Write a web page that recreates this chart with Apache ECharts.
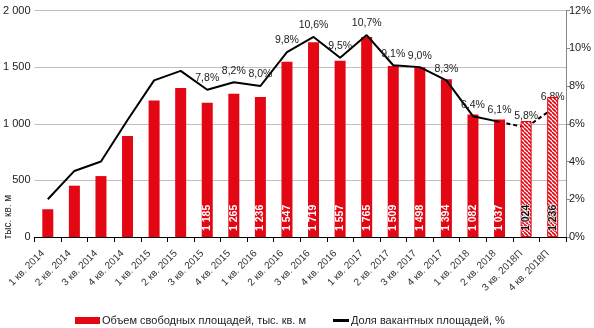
<!DOCTYPE html>
<html><head><meta charset="utf-8">
<script src="https://cdn.jsdelivr.net/npm/echarts@6/dist/echarts.min.js"></script>
<style>html,body{margin:0;padding:0;background:#fff}#c{width:594px;height:328px}</style>
</head><body><div id="c"></div>
<script>
const categories = ['1 кв. 2014','2 кв. 2014','3 кв. 2014','4 кв. 2014','1 кв. 2015','2 кв. 2015','3 кв. 2015','4 кв. 2015','1 кв. 2016','2 кв. 2016','3 кв. 2016','4 кв. 2016','1 кв. 2017','2 кв. 2017','3 кв. 2017','4 кв. 2017','1 кв. 2018','2 кв. 2018','3 кв. 2018П','4 кв. 2018П'];
const volume = [245,453,538,891,1205,1315,1185,1265,1236,1547,1719,1557,1765,1509,1498,1394,1082,1037,1024,1236];
const vacancy = [2.0,3.5,4.0,6.2,8.3,8.8,7.8,8.2,8.0,9.8,10.6,9.5,10.7,9.1,9.0,8.3,6.4,6.1,5.8,6.8];
const forecastFrom = 18;      // first forecast category index
const firstLabelled = 6;      // first category with value labels
const leftTicks = [0,500,1000,1500,2000];
const rightTicks = [0,2,4,6,8,10,12];
const barName = 'Объем свободных площадей, тыс. кв. м';
const lineName = 'Доля вакантных площадей, %';

const RED = '#E30613';
function fmtThousands(v){ return v >= 1000 ? Math.floor(v/1000) + ' ' + String(v % 1000).padStart(3,'0') : String(v); }

// hatch pattern
const pc = document.createElement('canvas');
const s = 4; pc.width = s; pc.height = s;
const pctx = pc.getContext('2d');
pctx.fillStyle = '#fff'; pctx.fillRect(0,0,s,s);
pctx.strokeStyle = RED; pctx.lineWidth = 1.7;
for (let k = -s; k <= s; k += s) { pctx.beginPath(); pctx.moveTo(k, 0); pctx.lineTo(k + s, s); pctx.stroke(); }

const barData = volume.map((v,i) => {
  const d = { value: v };
  if (i < firstLabelled) d.label = { show: false };
  if (i >= forecastFrom) {
    d.itemStyle = { color: { image: pc, repeat: 'repeat' }, borderColor: RED, borderWidth: 1 };
    d.label = { color: '#111', textBorderColor: 'rgba(255,255,255,0.8)', textBorderWidth: 1.5 };
  }
  return d;
});
const solidLine = vacancy.map((v,i) => i <= forecastFrom - 1 ? { value: v, label: { show: i >= firstLabelled } } : null);
const dashLine = vacancy.map((v,i) => i >= forecastFrom - 1 ? { value: v, label: { show: i >= forecastFrom } } : null);

const lineLabel = { show: true, position: 'top', distance: 6, fontSize: 10.5, color: '#222',
  formatter: p => p.value.toFixed(1).replace('.', ',') + '%' };

const chart = echarts.init(document.getElementById('c'), null, { renderer: 'canvas' });
chart.setOption({
  animation: false,
  textStyle: { fontFamily: 'Liberation Sans, Arial, sans-serif' },
  grid: { left: 32, right: 24, top: 10.5, bottom: 91, containLabel: false },
  legend: [
    { left: 70, top: 310, itemWidth: 25, itemHeight: 7, itemGap: 0, icon: 'rect', data: [barName],
      textStyle: { fontSize: 11, color: '#222', padding: [0,0,0,-3] } },
    { left: 328, top: 310, itemWidth: 16, itemHeight: 3, icon: 'rect', data: [{ name: lineName, itemStyle: { color: '#000' } }],
      textStyle: { fontSize: 11, color: '#222', padding: [0,0,0,-3] } }
  ],
  xAxis: {
    type: 'category', data: categories, boundaryGap: true,
    axisLine: { lineStyle: { color: '#000', width: 1 } },
    axisTick: { show: true, interval: 0, length: 5, lineStyle: { color: '#000' } },
    axisLabel: { interval: 0, rotate: 45, fontSize: 10, color: '#333', margin: 10, padding: [0,7,0,0] }
  },
  yAxis: [
    { type: 'value', min: 0, max: 2000, interval: 500,
      axisLine: { show: false }, axisTick: { show: false },
      splitLine: { lineStyle: { color: '#BFBFBF', width: 1 } },
      axisLabel: { fontSize: 11, color: '#222', margin: 4, formatter: v => leftTicks.includes(v) ? fmtThousands(v) : '' } },
    { type: 'value', min: 0, max: 12, interval: 2, position: 'right',
      axisLine: { show: true, lineStyle: { color: '#868686' } },
      axisTick: { show: true, length: 4, lineStyle: { color: '#868686' } },
      splitLine: { show: false },
      axisLabel: { fontSize: 11, color: '#222', margin: 3, formatter: v => rightTicks.includes(v) ? v + '%' : '' } }
  ],
  graphic: [{ type: 'text', x: 8, y: 217, rotation: Math.PI/2,
    style: { text: 'тыс. кв. м', fontSize: 10, fill: '#222', align: 'center', verticalAlign: 'middle', fontFamily: 'Liberation Sans, Arial, sans-serif' } }],
  series: [
    { name: barName, type: 'bar', data: barData, barWidth: 11, itemStyle: { color: RED },
      label: { show: true, position: 'insideBottom', rotate: 90, align: 'left', verticalAlign: 'middle', distance: 6,
        color: '#fff', fontWeight: 'bold', fontSize: 10.5, formatter: p => fmtThousands(p.value) } },
    { name: lineName, type: 'line', yAxisIndex: 1, data: solidLine, symbol: 'circle', symbolSize: 0.01, showSymbol: true, connectNulls: false,
      lineStyle: { color: '#000', width: 2 }, itemStyle: { color: '#000' }, label: lineLabel },
    { name: 'forecast', type: 'line', yAxisIndex: 1, data: dashLine, symbol: 'circle', symbolSize: 0.01, showSymbol: true,
      lineStyle: { color: '#000', width: 2, type: [4,3] }, itemStyle: { color: '#000' }, z: 1, label: lineLabel }
  ]
});
</script></body></html>
